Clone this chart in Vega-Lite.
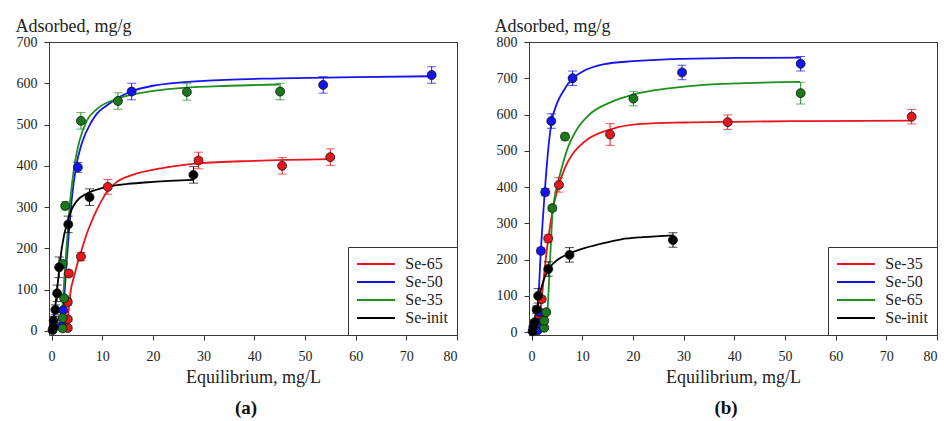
{
  "$schema": "https://vega.github.io/schema/vega-lite/v6.json",
  "background": "white",
  "padding": {"left": 14, "top": 16, "right": 0, "bottom": 0},
  "spacing": 35,
  "config": {
    "font": "Liberation Serif",
    "view": {"stroke": "#3a3a3a", "strokeWidth": 1},
    "axis": {"grid": false, "domain": false, "labelOverlap": false, "tickColor": "#333", "tickSize": 5, "labelFont": "Liberation Serif", "labelFontSize": 14, "labelColor": "#222", "titleFont": "Liberation Serif", "titleFontSize": 18, "titleFontWeight": "normal", "titleColor": "#222"},
    "legend": {"labelFont": "Liberation Serif", "labelFontSize": 16, "labelColor": "#222"},
    "title": {"font": "Liberation Serif", "fontSize": 19, "fontWeight": "bold", "color": "#111", "orient": "bottom", "frame": "group", "anchor": "middle", "offset": 13}
  },
  "datasets": {
    "curveA": [
      {"series": "Se-65", "x": 3.0, "y": 0}, {"series": "Se-65", "x": 3.3, "y": 40}, {"series": "Se-65", "x": 3.7, "y": 90}, {"series": "Se-65", "x": 4.5, "y": 134}, {"series": "Se-65", "x": 5.0, "y": 158}, {"series": "Se-65", "x": 5.8, "y": 190}, {"series": "Se-65", "x": 6.8, "y": 230}, {"series": "Se-65", "x": 7.8, "y": 262}, {"series": "Se-65", "x": 9, "y": 295}, {"series": "Se-65", "x": 10, "y": 318}, {"series": "Se-65", "x": 11.1, "y": 340}, {"series": "Se-65", "x": 13, "y": 362}, {"series": "Se-65", "x": 16, "y": 378}, {"series": "Se-65", "x": 21.6, "y": 394}, {"series": "Se-65", "x": 29, "y": 406}, {"series": "Se-65", "x": 40, "y": 412}, {"series": "Se-65", "x": 55, "y": 416},
      {"series": "Se-50", "x": 2.0, "y": 0}, {"series": "Se-50", "x": 2.5, "y": 80}, {"series": "Se-50", "x": 3.0, "y": 170}, {"series": "Se-50", "x": 3.5, "y": 250}, {"series": "Se-50", "x": 4.0, "y": 320}, {"series": "Se-50", "x": 4.8, "y": 395}, {"series": "Se-50", "x": 6, "y": 455}, {"series": "Se-50", "x": 7.8, "y": 505}, {"series": "Se-50", "x": 9, "y": 527}, {"series": "Se-50", "x": 11.1, "y": 548}, {"series": "Se-50", "x": 13, "y": 564}, {"series": "Se-50", "x": 15.7, "y": 580}, {"series": "Se-50", "x": 20, "y": 594}, {"series": "Se-50", "x": 30, "y": 606}, {"series": "Se-50", "x": 45, "y": 612}, {"series": "Se-50", "x": 60, "y": 615}, {"series": "Se-50", "x": 75, "y": 617},
      {"series": "Se-35", "x": 1.8, "y": 0}, {"series": "Se-35", "x": 2.3, "y": 85}, {"series": "Se-35", "x": 2.8, "y": 175}, {"series": "Se-35", "x": 3.3, "y": 260}, {"series": "Se-35", "x": 3.8, "y": 330}, {"series": "Se-35", "x": 4.5, "y": 400}, {"series": "Se-35", "x": 5.5, "y": 460}, {"series": "Se-35", "x": 7, "y": 510}, {"series": "Se-35", "x": 9, "y": 538}, {"series": "Se-35", "x": 13, "y": 563}, {"series": "Se-35", "x": 17.7, "y": 577}, {"series": "Se-35", "x": 26, "y": 589}, {"series": "Se-35", "x": 35, "y": 594}, {"series": "Se-35", "x": 45, "y": 597},
      {"series": "Se-init", "x": 0, "y": 0}, {"series": "Se-init", "x": 0.5, "y": 35}, {"series": "Se-init", "x": 1, "y": 88}, {"series": "Se-init", "x": 1.5, "y": 148}, {"series": "Se-init", "x": 2, "y": 198}, {"series": "Se-init", "x": 2.5, "y": 233}, {"series": "Se-init", "x": 3, "y": 258}, {"series": "Se-init", "x": 4, "y": 295}, {"series": "Se-init", "x": 5, "y": 315}, {"series": "Se-init", "x": 7, "y": 333}, {"series": "Se-init", "x": 10, "y": 346}, {"series": "Se-init", "x": 15, "y": 356}, {"series": "Se-init", "x": 20, "y": 361}, {"series": "Se-init", "x": 28, "y": 366}
    ],
    "ptsA": [
      {"series": "Se-65", "x": 3.2, "y": 7, "lo": 2, "hi": 12}, {"series": "Se-65", "x": 3.2, "y": 28, "lo": 23, "hi": 33}, {"series": "Se-65", "x": 3.2, "y": 70, "lo": 62, "hi": 78}, {"series": "Se-65", "x": 3.4, "y": 139, "lo": 131, "hi": 147}, {"series": "Se-65", "x": 5.8, "y": 180, "lo": 170, "hi": 190}, {"series": "Se-65", "x": 11.1, "y": 349, "lo": 331, "hi": 367}, {"series": "Se-65", "x": 29, "y": 413, "lo": 393, "hi": 433}, {"series": "Se-65", "x": 45.5, "y": 400, "lo": 380, "hi": 420}, {"series": "Se-65", "x": 55, "y": 421, "lo": 401, "hi": 441},
      {"series": "Se-50", "x": 2.0, "y": 12, "lo": 7, "hi": 17}, {"series": "Se-50", "x": 2.3, "y": 50, "lo": 44, "hi": 56}, {"series": "Se-50", "x": 5.2, "y": 396, "lo": 384, "hi": 408}, {"series": "Se-50", "x": 15.8, "y": 580, "lo": 560, "hi": 600}, {"series": "Se-50", "x": 53.6, "y": 596, "lo": 576, "hi": 616}, {"series": "Se-50", "x": 75, "y": 620, "lo": 600, "hi": 640},
      {"series": "Se-35", "x": 2.2, "y": 6, "lo": 1, "hi": 11}, {"series": "Se-35", "x": 2.2, "y": 31, "lo": 26, "hi": 36}, {"series": "Se-35", "x": 2.5, "y": 79, "lo": 73, "hi": 85}, {"series": "Se-35", "x": 2.2, "y": 162, "lo": 154, "hi": 170}, {"series": "Se-35", "x": 2.7, "y": 303, "lo": 293, "hi": 313}, {"series": "Se-35", "x": 5.8, "y": 509, "lo": 489, "hi": 529}, {"series": "Se-35", "x": 13.1, "y": 557, "lo": 537, "hi": 577}, {"series": "Se-35", "x": 26.7, "y": 579, "lo": 559, "hi": 599}, {"series": "Se-35", "x": 45.1, "y": 580, "lo": 560, "hi": 600},
      {"series": "Se-init", "x": 0.2, "y": 2, "lo": -3, "hi": 7}, {"series": "Se-init", "x": 0.36, "y": 8, "lo": 2, "hi": 14}, {"series": "Se-init", "x": 0.43, "y": 25, "lo": 15, "hi": 35}, {"series": "Se-init", "x": 0.75, "y": 51, "lo": 39, "hi": 63}, {"series": "Se-init", "x": 1.1, "y": 91, "lo": 71, "hi": 111}, {"series": "Se-init", "x": 1.5, "y": 154, "lo": 129, "hi": 179}, {"series": "Se-init", "x": 3.3, "y": 258, "lo": 238, "hi": 278}, {"series": "Se-init", "x": 7.5, "y": 324, "lo": 304, "hi": 344}, {"series": "Se-init", "x": 28, "y": 378, "lo": 358, "hi": 398}
    ],
    "curveB": [
      {"series": "Se-35", "x": 1.3, "y": 0}, {"series": "Se-35", "x": 2.0, "y": 91}, {"series": "Se-35", "x": 2.6, "y": 175}, {"series": "Se-35", "x": 3.3, "y": 258}, {"series": "Se-35", "x": 4.3, "y": 345}, {"series": "Se-35", "x": 5.4, "y": 406}, {"series": "Se-35", "x": 6.5, "y": 450}, {"series": "Se-35", "x": 7.9, "y": 487}, {"series": "Se-35", "x": 9.5, "y": 513}, {"series": "Se-35", "x": 11.2, "y": 533}, {"series": "Se-35", "x": 15.8, "y": 560}, {"series": "Se-35", "x": 21.7, "y": 574}, {"series": "Se-35", "x": 30, "y": 578}, {"series": "Se-35", "x": 40, "y": 580}, {"series": "Se-35", "x": 55, "y": 582}, {"series": "Se-35", "x": 75, "y": 583},
      {"series": "Se-50", "x": 1.0, "y": 0}, {"series": "Se-50", "x": 1.4, "y": 100}, {"series": "Se-50", "x": 1.8, "y": 215}, {"series": "Se-50", "x": 2.2, "y": 305}, {"series": "Se-50", "x": 2.6, "y": 385}, {"series": "Se-50", "x": 3.2, "y": 490}, {"series": "Se-50", "x": 3.9, "y": 575}, {"series": "Se-50", "x": 5, "y": 630}, {"series": "Se-50", "x": 6.2, "y": 663}, {"series": "Se-50", "x": 8, "y": 698}, {"series": "Se-50", "x": 10, "y": 718}, {"series": "Se-50", "x": 14.4, "y": 739}, {"series": "Se-50", "x": 20, "y": 747}, {"series": "Se-50", "x": 27.6, "y": 753}, {"series": "Se-50", "x": 40, "y": 756}, {"series": "Se-50", "x": 53, "y": 757},
      {"series": "Se-65", "x": 2.85, "y": 0}, {"series": "Se-65", "x": 3.3, "y": 95}, {"series": "Se-65", "x": 3.7, "y": 210}, {"series": "Se-65", "x": 4.1, "y": 320}, {"series": "Se-65", "x": 4.6, "y": 375}, {"series": "Se-65", "x": 5.2, "y": 412}, {"series": "Se-65", "x": 6, "y": 455}, {"series": "Se-65", "x": 7.2, "y": 510}, {"series": "Se-65", "x": 9, "y": 560}, {"series": "Se-65", "x": 11.2, "y": 597}, {"series": "Se-65", "x": 15.8, "y": 635}, {"series": "Se-65", "x": 20, "y": 655}, {"series": "Se-65", "x": 27, "y": 672}, {"series": "Se-65", "x": 34, "y": 682}, {"series": "Se-65", "x": 53, "y": 690},
      {"series": "Se-init", "x": 0, "y": 0}, {"series": "Se-init", "x": 0.5, "y": 30}, {"series": "Se-init", "x": 1, "y": 62}, {"series": "Se-init", "x": 1.5, "y": 95}, {"series": "Se-init", "x": 2, "y": 125}, {"series": "Se-init", "x": 3, "y": 165}, {"series": "Se-init", "x": 4, "y": 185}, {"series": "Se-init", "x": 5, "y": 198}, {"series": "Se-init", "x": 7.5, "y": 217}, {"series": "Se-init", "x": 11, "y": 234}, {"series": "Se-init", "x": 14, "y": 245}, {"series": "Se-init", "x": 17.7, "y": 256}, {"series": "Se-init", "x": 22, "y": 262}, {"series": "Se-init", "x": 28, "y": 267}
    ],
    "ptsB": [
      {"series": "Se-35", "x": 1.3, "y": 22, "lo": 17, "hi": 27}, {"series": "Se-35", "x": 1.6, "y": 43, "lo": 37, "hi": 49}, {"series": "Se-35", "x": 2.0, "y": 91, "lo": 83, "hi": 99}, {"series": "Se-35", "x": 3.3, "y": 258, "lo": 248, "hi": 268}, {"series": "Se-35", "x": 5.4, "y": 406, "lo": 386, "hi": 426}, {"series": "Se-35", "x": 15.5, "y": 545, "lo": 515, "hi": 575}, {"series": "Se-35", "x": 38.7, "y": 579, "lo": 559, "hi": 599}, {"series": "Se-35", "x": 75, "y": 594, "lo": 574, "hi": 614},
      {"series": "Se-50", "x": 1.2, "y": 5, "lo": 1, "hi": 9}, {"series": "Se-50", "x": 1.3, "y": 25, "lo": 20, "hi": 30}, {"series": "Se-50", "x": 1.6, "y": 55, "lo": 49, "hi": 61}, {"series": "Se-50", "x": 1.85, "y": 224, "lo": 216, "hi": 232}, {"series": "Se-50", "x": 2.7, "y": 386, "lo": 376, "hi": 396}, {"series": "Se-50", "x": 3.9, "y": 582, "lo": 562, "hi": 602}, {"series": "Se-50", "x": 8.1, "y": 700, "lo": 680, "hi": 720}, {"series": "Se-50", "x": 29.7, "y": 716, "lo": 696, "hi": 736}, {"series": "Se-50", "x": 53.1, "y": 740, "lo": 720, "hi": 760},
      {"series": "Se-65", "x": 2.5, "y": 12, "lo": 8, "hi": 16}, {"series": "Se-65", "x": 2.5, "y": 31, "lo": 26, "hi": 36}, {"series": "Se-65", "x": 2.9, "y": 55, "lo": 49, "hi": 61}, {"series": "Se-65", "x": 4.1, "y": 342, "lo": 334, "hi": 350}, {"series": "Se-65", "x": 6.6, "y": 539, "lo": 529, "hi": 549}, {"series": "Se-65", "x": 20.1, "y": 644, "lo": 624, "hi": 664}, {"series": "Se-65", "x": 53.1, "y": 659, "lo": 629, "hi": 689},
      {"series": "Se-init", "x": 0.2, "y": 2, "lo": -2, "hi": 6}, {"series": "Se-init", "x": 0.35, "y": 13, "lo": 8, "hi": 18}, {"series": "Se-init", "x": 0.6, "y": 27, "lo": 21, "hi": 33}, {"series": "Se-init", "x": 1.0, "y": 62, "lo": 52, "hi": 72}, {"series": "Se-init", "x": 1.3, "y": 100, "lo": 80, "hi": 120}, {"series": "Se-init", "x": 3.3, "y": 174, "lo": 154, "hi": 194}, {"series": "Se-init", "x": 7.5, "y": 213, "lo": 193, "hi": 233}, {"series": "Se-init", "x": 27.9, "y": 254, "lo": 234, "hi": 274}
    ]
  },
  "hconcat": [
    {
      "width": 408,
      "height": 293,
      "title": {"text": "(a)", "dx": -7},
      "encoding": {
        "x": {"field": "x", "type": "quantitative", "scale": {"domain": [-0.5, 80], "nice": false, "zero": false}, "axis": {"values": [0, 10, 20, 30, 40, 50, 60, 70, 80], "labelOverlap": false, "labelPadding": 9, "title": "Equilibrium, mg/L", "titleY": 47, "titleBaseline": "alphabetic"}}
      },
      "layer": [
        {
          "data": {"name": "curveA"},
          "mark": {"type": "line", "strokeWidth": 1.8, "interpolate": "monotone"},
          "encoding": {
            "y": {"field": "y", "type": "quantitative", "scale": {"domain": [-10, 700], "nice": false, "zero": false}, "axis": {"values": [0, 100, 200, 300, 400, 500, 600, 700], "labelOverlap": false, "labelPadding": 7, "title": "Adsorbed, mg/g", "titleAngle": 0, "titleAlign": "left", "titleBaseline": "alphabetic", "titleX": -34, "titleY": -11}},
            "color": {"field": "series", "type": "nominal", "sort": null, "scale": {"domain": ["Se-65", "Se-50", "Se-35", "Se-init"], "range": ["#e8161b", "#1414f0", "#1f8f1f", "#000000"]},
              "legend": {"title": null, "orient": "bottom-right", "offset": 0, "padding": 9, "strokeColor": "#333", "fillColor": "white", "labelFont": "Liberation Serif", "labelFontSize": 16, "symbolType": "M-4.75,0H4.75", "symbolSize": 64, "symbolStrokeWidth": 2, "symbolOffset": 11, "labelOffset": 21.3, "rowPadding": 2, "cornerRadius": 0}}
          }
        },
        {
          "data": {"name": "ptsA"},
          "mark": {"type": "errorbar", "ticks": {"size": 9}, "thickness": 1},
          "encoding": {
            "y": {"field": "lo", "type": "quantitative", "scale": {"domain": [-10, 700], "nice": false, "zero": false}, "axis": {"values": [0, 100, 200, 300, 400, 500, 600, 700], "labelOverlap": false, "labelPadding": 7, "title": "Adsorbed, mg/g", "titleAngle": 0, "titleAlign": "left", "titleBaseline": "alphabetic", "titleX": -34, "titleY": -11}},
            "y2": {"field": "hi"},
            "color": {"field": "series", "type": "nominal", "sort": null, "legend": null, "scale": {"domain": ["Se-65", "Se-50", "Se-35", "Se-init"], "range": ["#e8161b", "#1414f0", "#1f8f1f", "#000000"]}}
          }
        },
        {
          "data": {"name": "ptsA"},
          "mark": {"type": "circle", "size": 80, "stroke": "#111", "strokeWidth": 0.8, "opacity": 1},
          "encoding": {
            "y": {"field": "y", "type": "quantitative", "scale": {"domain": [-10, 700], "nice": false, "zero": false}, "axis": {"values": [0, 100, 200, 300, 400, 500, 600, 700], "labelOverlap": false, "labelPadding": 7, "title": "Adsorbed, mg/g", "titleAngle": 0, "titleAlign": "left", "titleBaseline": "alphabetic", "titleX": -34, "titleY": -11}},
            "fill": {"field": "series", "type": "nominal", "legend": null, "scale": {"domain": ["Se-65", "Se-50", "Se-35", "Se-init"], "range": ["#e8161b", "#1414f0", "#1a7a1a", "#000000"]}}
          }
        }
      ]
    },
    {
      "width": 408,
      "height": 293,
      "title": {"text": "(b)", "dx": -7},
      "encoding": {
        "x": {"field": "x", "type": "quantitative", "scale": {"domain": [-0.5, 80], "nice": false, "zero": false}, "axis": {"values": [0, 10, 20, 30, 40, 50, 60, 70, 80], "labelOverlap": false, "labelPadding": 9, "title": "Equilibrium, mg/L", "titleY": 47, "titleBaseline": "alphabetic"}}
      },
      "layer": [
        {
          "data": {"name": "curveB"},
          "mark": {"type": "line", "strokeWidth": 1.8, "interpolate": "monotone"},
          "encoding": {
            "y": {"field": "y", "type": "quantitative", "scale": {"domain": [-8, 800], "nice": false, "zero": false}, "axis": {"values": [0, 100, 200, 300, 400, 500, 600, 700, 800], "labelOverlap": false, "labelPadding": 7, "title": "Adsorbed, mg/g", "titleAngle": 0, "titleAlign": "left", "titleBaseline": "alphabetic", "titleX": -35, "titleY": -11}},
            "color": {"field": "series", "type": "nominal", "sort": null, "scale": {"domain": ["Se-35", "Se-50", "Se-65", "Se-init"], "range": ["#e8161b", "#1414f0", "#1f8f1f", "#000000"]},
              "legend": {"title": null, "orient": "bottom-right", "offset": 0, "padding": 9, "strokeColor": "#333", "fillColor": "white", "labelFont": "Liberation Serif", "labelFontSize": 16, "symbolType": "M-4.75,0H4.75", "symbolSize": 64, "symbolStrokeWidth": 2, "symbolOffset": 11, "labelOffset": 21.3, "rowPadding": 2, "cornerRadius": 0}}
          }
        },
        {
          "data": {"name": "ptsB"},
          "mark": {"type": "errorbar", "ticks": {"size": 9}, "thickness": 1},
          "encoding": {
            "y": {"field": "lo", "type": "quantitative", "scale": {"domain": [-8, 800], "nice": false, "zero": false}, "axis": {"values": [0, 100, 200, 300, 400, 500, 600, 700, 800], "labelOverlap": false, "labelPadding": 7, "title": "Adsorbed, mg/g", "titleAngle": 0, "titleAlign": "left", "titleBaseline": "alphabetic", "titleX": -35, "titleY": -11}},
            "y2": {"field": "hi"},
            "color": {"field": "series", "type": "nominal", "sort": null, "legend": null, "scale": {"domain": ["Se-35", "Se-50", "Se-65", "Se-init"], "range": ["#e8161b", "#1414f0", "#1f8f1f", "#000000"]}}
          }
        },
        {
          "data": {"name": "ptsB"},
          "mark": {"type": "circle", "size": 80, "stroke": "#111", "strokeWidth": 0.8, "opacity": 1},
          "encoding": {
            "y": {"field": "y", "type": "quantitative", "scale": {"domain": [-8, 800], "nice": false, "zero": false}, "axis": {"values": [0, 100, 200, 300, 400, 500, 600, 700, 800], "labelOverlap": false, "labelPadding": 7, "title": "Adsorbed, mg/g", "titleAngle": 0, "titleAlign": "left", "titleBaseline": "alphabetic", "titleX": -35, "titleY": -11}},
            "fill": {"field": "series", "type": "nominal", "legend": null, "scale": {"domain": ["Se-35", "Se-50", "Se-65", "Se-init"], "range": ["#e8161b", "#1414f0", "#1a7a1a", "#000000"]}}
          }
        }
      ]
    }
  ],
  "resolve": {"scale": {"color": "independent", "fill": "independent", "x": "independent", "y": "independent"}}
}
